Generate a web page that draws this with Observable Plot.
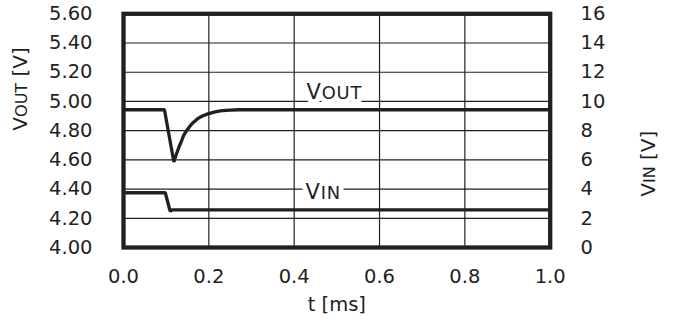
<!DOCTYPE html>
<html>
<head>
<meta charset="utf-8">
<script src="https://cdn.jsdelivr.net/npm/d3@7"></script>
<script src="https://cdn.jsdelivr.net/npm/@observablehq/plot@0.6"></script>
<style>
  html, body { margin: 0; padding: 0; background: #fff; }
</style>
</head>
<body>
<div id="chart"></div>
<script>
// ---- data ----
const tVout = [0, 0.096, 0.118, 0.124, 0.130, 0.136, 0.141, 0.149, 0.157, 0.165, 0.173, 0.180, 0.188, 0.196, 0.204, 0.215, 0.227, 0.240, 0.251, 0.270, 1.0];
const vout  = [4.943, 4.943, 4.585, 4.640, 4.687, 4.730, 4.767, 4.805, 4.836, 4.860, 4.880, 4.893, 4.904, 4.913, 4.920, 4.929, 4.935, 4.939, 4.941, 4.943, 4.943];

const tVin = [0, 0.098, 0.108, 0.110, 0.113, 1.0];
const vin  = [3.75, 3.75, 2.62, 2.47, 2.58, 2.58];

const xTicks    = [0, 0.2, 0.4, 0.6, 0.8, 1.0];
const voutTicks = [4.0, 4.2, 4.4, 4.6, 4.8, 5.0, 5.2, 5.4, 5.6];
const vinTicks  = [0, 2, 4, 6, 8, 10, 12, 14, 16];

const xTitle = "t [ms]";
const voutTitle = "VOUT [V]";
const vinTitle = "VIN [V]";

// in-plot series labels (data units: t, VOUT-axis value)
const seriesLabels = ["VOUT", "VIN"];
const seriesLabelT = [0.429, 0.4265];
const seriesLabelV = [5.064, 4.375];

// ---- mapping VIN onto the VOUT axis (shared y scale) ----
const vinToY = v => 4 + v / 10;
const yToVin = y => Math.round((y - 4) * 10);

const voutData = tVout.map((t, i) => ({t, v: vout[i]}));
const vinData = tVin.map((t, i) => ({t, v: vinToY(vin[i])}));
const labelData = seriesLabels.map((s, i) => ({s, t: seriesLabelT[i], v: seriesLabelV[i]}));

const ink = "#231f20";

const chart = Plot.plot({
  width: 673,
  height: 323,
  marginLeft: 123,
  marginRight: 123.3,
  marginTop: 13.3,
  marginBottom: 76,
  x: {domain: [0, 1]},
  y: {domain: [4, 5.6]},
  style: {fontFamily: "'DejaVu Sans', sans-serif", fontSize: "19.5px", color: ink, background: "white"},
  marks: [
    Plot.gridX(xTicks, {stroke: ink, strokeOpacity: 1, strokeWidth: 1.2}),
    Plot.gridY(voutTicks, {stroke: ink, strokeOpacity: 1, strokeWidth: 1.2}),
    Plot.axisX(xTicks, {tickSize: 0, tickPadding: 21.5, tickFormat: d3.format(".1f"), label: null, fill: ink}),
    Plot.axisY(voutTicks, {anchor: "left", tickSize: 0, tickPadding: 31, tickFormat: d3.format(".2f"), label: null, fill: ink}),
    Plot.axisY(vinTicks.map(vinToY), {anchor: "right", tickSize: 0, tickPadding: 30.3, tickFormat: d => String(yToVin(d)), label: null, fill: ink}),
    // white knock-out behind the series labels, then the labels themselves
    Plot.text(labelData, {x: "t", y: "v", text: "s", textAnchor: "start", fontSize: 21, fill: "white", stroke: "white", strokeWidth: 10}),
    Plot.text(labelData, {x: "t", y: "v", text: "s", textAnchor: "start", fontSize: 21, fill: ink}),
    Plot.line(voutData, {x: "t", y: "v", stroke: ink, strokeWidth: 3.3, strokeLinejoin: "miter"}),
    Plot.line(vinData, {x: "t", y: "v", stroke: ink, strokeWidth: 3.3, strokeLinejoin: "miter"}),
    Plot.frame({stroke: ink, strokeWidth: 4.3}),
    Plot.text([xTitle], {frameAnchor: "bottom", dy: 63, text: d => d, fill: ink, fontSize: 19.5}),
    Plot.text([voutTitle], {frameAnchor: "left", dx: -103, rotate: -90, text: d => d, fill: ink, fontSize: 20}),
    Plot.text([vinTitle], {frameAnchor: "right", dx: 98, rotate: -90, text: d => d, fill: ink, fontSize: 20})
  ]
});

// small-caps subscripts: "VOUT" -> V + smaller OUT
const seriesSet = new Set(seriesLabels);
const titleSet = new Set([voutTitle, vinTitle]);
const ns = "http://www.w3.org/2000/svg";
chart.querySelectorAll("text").forEach(el => {
  const s = el.textContent;
  const isSeries = seriesSet.has(s);
  if (!isSeries && !titleSet.has(s)) return;
  const m = s.match(/^(V)([A-Z]+)(.*)$/);
  if (!m) return;
  while (el.firstChild) el.removeChild(el.firstChild);
  const a = document.createElementNS(ns, "tspan"); a.textContent = m[1];
  const b = document.createElementNS(ns, "tspan"); b.textContent = m[2];
  b.setAttribute("font-size", isSeries ? "0.85em" : "0.8em");
  el.appendChild(a); el.appendChild(b);
  if (m[3]) { const c = document.createElementNS(ns, "tspan"); c.textContent = m[3]; el.appendChild(c); }
  if (isSeries) el.setAttribute("letter-spacing", "0.8");
});

document.getElementById("chart").appendChild(chart);
</script>
</body>
</html>
